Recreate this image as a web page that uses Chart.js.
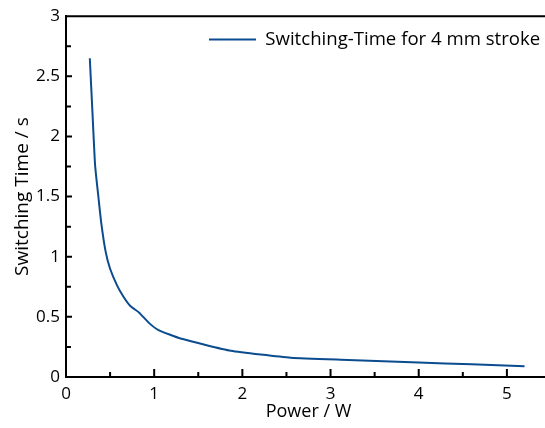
<!DOCTYPE html>
<html>
<head>
<meta charset="utf-8">
<script src="https://cdn.jsdelivr.net/npm/chart.js@4"></script>
<style>
  html, body { margin: 0; padding: 0; background: #fff; }
  #wrap { width: 545px; height: 428px; position: relative; }
</style>
</head>
<body>
<div id="wrap"><canvas id="chart"></canvas></div>
<script>
// measured curve: power in W vs switching time in s
const powerW = [0.27, 0.30, 0.33, 0.37, 0.40, 0.45, 0.50, 0.58, 0.65, 0.73, 0.83, 0.94, 1.05, 1.30, 1.87, 2.55, 3.20, 4.00, 4.60, 5.20];
const switchTimeS = [2.65, 2.20, 1.76, 1.48, 1.28, 1.04, 0.90, 0.76, 0.67, 0.59, 0.535, 0.45, 0.39, 0.32, 0.218, 0.16, 0.142, 0.12, 0.105, 0.09];

const xMajorTicks = [0, 1, 2, 3, 4, 5];
const xMinorTicks = [0.5, 1.5, 2.5, 3.5, 4.5, 5.5];
const yMajorTicks = [0, 0.5, 1, 1.5, 2, 2.5, 3];
const yMinorTicks = [0.25, 0.75, 1.25, 1.75, 2.25, 2.75];

const seriesLabel = 'Switching-Time for 4 mm stroke';
const lineColor = '#0b4c8f';
const fontFamily = '"Open Sans", "Noto Sans", sans-serif';

// inward ticks + top frame line
const frameTicks = {
    id: 'frameTicks',
    afterDatasetsDraw(chart) {
        const { ctx, chartArea, scales } = chart;
        ctx.save();
        ctx.strokeStyle = '#000';
        ctx.lineWidth = 2;
        ctx.beginPath();
        ctx.moveTo(chartArea.left, chartArea.top);
        ctx.lineTo(chartArea.right, chartArea.top);
        xMajorTicks.concat(xMinorTicks).forEach(v => {
            const len = xMajorTicks.includes(v) ? 8 : 5;
            const px = scales.x.getPixelForValue(v);
            ctx.moveTo(px, chartArea.bottom);
            ctx.lineTo(px, chartArea.bottom - len);
        });
        yMajorTicks.concat(yMinorTicks).forEach(v => {
            const len = yMajorTicks.includes(v) ? 6 : 5;
            const py = scales.y.getPixelForValue(v);
            ctx.moveTo(chartArea.left, py);
            ctx.lineTo(chartArea.left + len, py);
        });
        ctx.stroke();
        ctx.restore();
    }
};

// the original figure is cut off on the right: let the x axis run past the canvas,
// and put the legend in the upper right of the plot frame
const layoutTweak = {
    id: 'layoutTweak',
    afterLayout(chart) {
        const xs = chart.scales.x;
        xs.right = xs.left + 485;
        xs.width = xs.right - xs.left;
        xs.configure();
        chart.chartArea.right = xs.right;
        chart.chartArea.width = xs.width;

        const lg = chart.legend;
        const h = lg.bottom - lg.top;
        lg.left = chart.chartArea.left + 133;
        lg.top = chart.chartArea.top + 4;
        lg.bottom = lg.top + h;
    }
};

const ctx = document.getElementById('chart').getContext('2d');
new Chart(ctx, {
    type: 'line',
    data: {
        datasets: [{
            label: seriesLabel,
            data: powerW.map((p, i) => ({ x: p, y: switchTimeS[i] })),
            borderColor: lineColor,
            backgroundColor: lineColor,
            borderWidth: 2,
            pointRadius: 0,
            tension: 0.15
        }]
    },
    options: {
        responsive: true,
        maintainAspectRatio: false,
        animation: false,
        devicePixelRatio: 1,
        layout: { padding: { top: 15, right: 0, left: 0, bottom: 0 } },
        scales: {
            x: {
                type: 'linear',
                min: 0,
                max: 5.5,
                afterBuildTicks: scale => { scale.ticks = xMajorTicks.map(v => ({ value: v })); },
                afterFit: scale => { scale.height = 51; },
                ticks: {
                    padding: 7,
                    color: '#000',
                    font: { family: fontFamily, size: 17 },
                    maxRotation: 0,
                    callback: v => String(v)
                },
                grid: { display: false, drawTicks: false },
                border: { display: true, color: '#000', width: 2 },
                title: {
                    display: true,
                    text: 'Power / W',
                    color: '#000',
                    font: { family: fontFamily, size: 18 },
                    padding: { top: 0, bottom: 5 }
                }
            },
            y: {
                type: 'linear',
                min: 0,
                max: 3,
                afterBuildTicks: scale => { scale.ticks = yMajorTicks.map(v => ({ value: v })); },
                afterFit: scale => { scale.width = 66; },
                ticks: {
                    padding: 6,
                    color: '#000',
                    font: { family: fontFamily, size: 17 },
                    callback: v => String(v)
                },
                grid: { display: false, drawTicks: false },
                border: { display: true, color: '#000', width: 2 },
                title: {
                    display: true,
                    text: 'Switching Time / s',
                    color: '#000',
                    font: { family: fontFamily, size: 19 },
                    padding: { top: 11, bottom: 0 }
                }
            }
        },
        plugins: {
            legend: {
                position: 'chartArea',
                align: 'start',
                labels: {
                    usePointStyle: true,
                    pointStyle: 'line',
                    pointStyleWidth: 47,
                    padding: 10,
                    color: '#000',
                    font: { family: fontFamily, size: 18.6 }
                }
            },
            tooltip: { enabled: false }
        }
    },
    plugins: [frameTicks, layoutTweak]
});
</script>
</body>
</html>
